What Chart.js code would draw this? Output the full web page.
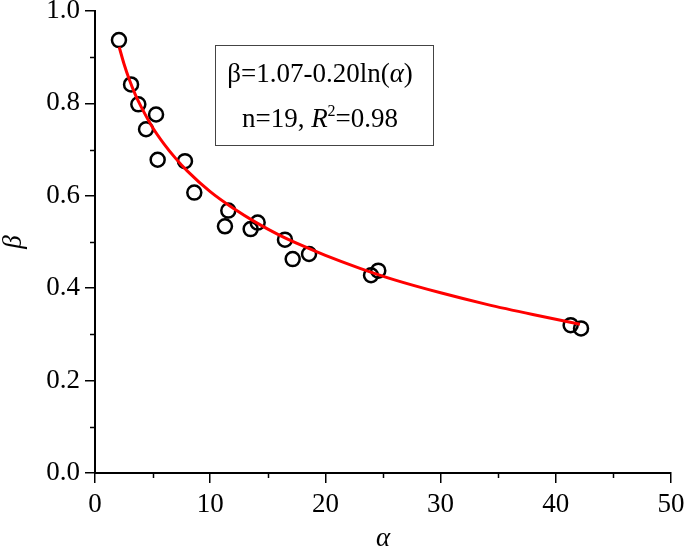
<!DOCTYPE html>
<html>
<head>
<meta charset="utf-8">
<script src="https://cdn.jsdelivr.net/npm/chart.js@4.4.0/dist/chart.umd.min.js"></script>
<style>
  html, body { margin: 0; padding: 0; background: #fff; }
  #wrap { width: 685px; height: 548px; }
</style>
</head>
<body>
<div id="wrap"><canvas id="fitChart"></canvas></div>
<script>
// measured points (alpha, beta)
const alphaObs = [2.08, 3.13, 3.76, 5.30, 4.43, 5.44, 7.81, 8.62, 11.57, 11.28,
                  14.12, 13.51, 16.49, 17.16, 18.58, 23.96, 24.59, 41.29, 42.19];
const betaObs = [0.937, 0.841, 0.798, 0.776, 0.744, 0.678, 0.675, 0.607, 0.568, 0.534,
                 0.542, 0.528, 0.505, 0.463, 0.474, 0.428, 0.438, 0.320, 0.313];

// fitted curve
const alphaFit = [2.1, 2.5, 3, 3.5, 4, 5, 6, 7, 8, 10, 12, 14, 16, 18, 20, 23, 26, 30, 34, 38, 42.1];
const betaFit = [0.922, 0.887, 0.850, 0.819, 0.793, 0.748, 0.712, 0.681, 0.654, 0.609, 0.573,
                 0.542, 0.515, 0.492, 0.471, 0.443, 0.418, 0.390, 0.365, 0.343, 0.322];

const xTicks = [0, 10, 20, 30, 40, 50];
const yTicks = [0.0, 0.2, 0.4, 0.6, 0.8, 1.0];

const serif = '"Liberation Serif", "Times New Roman", serif';

// short ticks halfway between the labelled ones
const minorTicks = {
    id: 'minorTicks',
    afterDraw(chart) {
        const ctx = chart.ctx;
        ctx.save();
        ctx.strokeStyle = '#000';
        ctx.lineWidth = 1.5;
        const xs = chart.scales.x, ys = chart.scales.y;
        for (let i = 0; i < xTicks.length - 1; i++) {
            const px = Math.round(xs.getPixelForValue((xTicks[i] + xTicks[i + 1]) / 2)) + 0.5;
            ctx.beginPath();
            ctx.moveTo(px, xs.top);
            ctx.lineTo(px, xs.top + 5);
            ctx.stroke();
        }
        for (let i = 0; i < yTicks.length - 1; i++) {
            const py = Math.round(ys.getPixelForValue((yTicks[i] + yTicks[i + 1]) / 2)) + 0.5;
            ctx.beginPath();
            ctx.moveTo(ys.right, py);
            ctx.lineTo(ys.right - 5, py);
            ctx.stroke();
        }
        ctx.restore();
    }
};

function drawRuns(ctx, runs, cx, cy) {
    let total = 0;
    runs.forEach(r => { ctx.font = r.font; total += ctx.measureText(r.t).width; });
    let x = cx - total / 2;
    runs.forEach(r => {
        ctx.font = r.font;
        ctx.fillText(r.t, x, cy + (r.dy || 0));
        x += ctx.measureText(r.t).width;
    });
}

// equation box
const equationBox = {
    id: 'equationBox',
    afterDraw(chart) {
        const ctx = chart.ctx;
        ctx.save();
        ctx.strokeStyle = '#444';
        ctx.lineWidth = 1;
        ctx.strokeRect(215.5, 45.5, 218, 100);
        ctx.fillStyle = '#000';
        ctx.textBaseline = 'alphabetic';
        const n = '27px ' + serif, it = 'italic 27px ' + serif, sm = '16px ' + serif;
        drawRuns(ctx, [
            { t: 'β=1.07-0.20ln(', font: n },
            { t: 'α', font: it },
            { t: ')', font: n }
        ], 320, 82);
        drawRuns(ctx, [
            { t: 'n=19, ', font: n },
            { t: 'R', font: it },
            { t: '2', font: sm, dy: -11 },
            { t: '=0.98', font: n }
        ], 320, 127);
        ctx.restore();
    }
};

new Chart(document.getElementById('fitChart'), {
    type: 'scatter',
    data: {
        datasets: [{
            label: 'fit',
            data: alphaFit.map((a, i) => ({ x: a, y: betaFit[i] })),
            showLine: true,
            borderColor: '#ff0000',
            borderWidth: 3,
            pointRadius: 0,
            cubicInterpolationMode: 'monotone',
            order: 0
        }, {
            label: 'data',
            data: alphaObs.map((a, i) => ({ x: a, y: betaObs[i] })),
            pointRadius: 7,
            pointBorderWidth: 2.5,
            pointBorderColor: '#000',
            pointBackgroundColor: 'rgba(0,0,0,0)',
            order: 1
        }]
    },
    options: {
        responsive: true,
        maintainAspectRatio: false,
        animation: false,
        layout: { padding: { top: 11, right: 14, left: 0, bottom: 0 } },
        plugins: { legend: { display: false }, tooltip: { enabled: false } },
        scales: {
            x: {
                type: 'linear',
                min: 0, max: 50,
                afterBuildTicks: s => { s.ticks = xTicks.map(v => ({ value: v })); },
                afterFit: s => { s.height = 75; s.paddingLeft = 0; s.paddingRight = 0; },
                border: { display: true, color: '#000', width: 2 },
                grid: { display: true, drawOnChartArea: false, drawTicks: true, tickLength: 10, color: '#000', lineWidth: 1.5 },
                ticks: { color: '#000', font: { family: serif, size: 27 }, padding: 6, maxRotation: 0 },
                title: { display: true, text: 'α', color: '#000', font: { family: serif, size: 27, style: 'italic', lineHeight: 1 }, padding: { top: 0, bottom: -4 } }
            },
            y: {
                type: 'linear',
                min: 0, max: 1,
                afterBuildTicks: s => { s.ticks = yTicks.map(v => ({ value: v })); },
                afterFit: s => { s.width = 95; s.paddingTop = 0; s.paddingBottom = 0; },
                border: { display: true, color: '#000', width: 2 },
                grid: { display: true, drawOnChartArea: false, drawTicks: true, tickLength: 10, color: '#000', lineWidth: 1.5 },
                ticks: { color: '#000', font: { family: serif, size: 27 }, padding: 5, callback: v => v.toFixed(1) },
                title: { display: true, text: 'β', color: '#000', font: { family: serif, size: 27, style: 'italic', lineHeight: 1 }, padding: { top: 0, bottom: 0 } }
            }
        }
    },
    plugins: [minorTicks, equationBox]
});
</script>
</body>
</html>
